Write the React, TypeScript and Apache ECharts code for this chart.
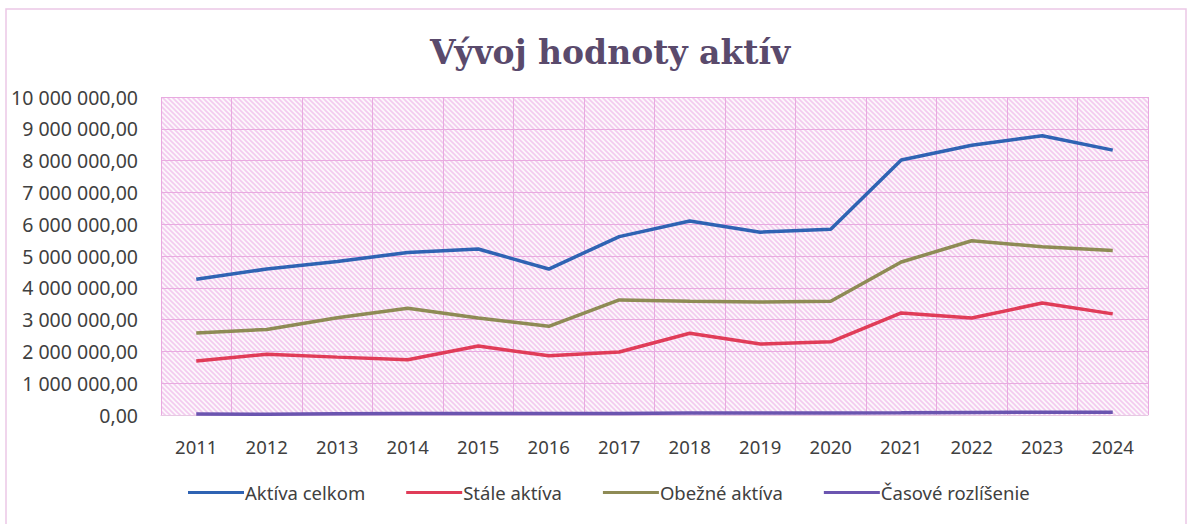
import React, { useEffect, useRef } from "react";
import * as echarts from "echarts";

const years = ["2011","2012","2013","2014","2015","2016","2017","2018","2019","2020","2021","2022","2023","2024"];
const aktivaCelkom = [4270000, 4590000, 4830000, 5110000, 5220000, 4590000, 5610000, 6100000, 5750000, 5840000, 8020000, 8480000, 8780000, 8330000];
const staleAktiva = [1700000, 1910000, 1820000, 1740000, 2170000, 1860000, 1980000, 2570000, 2230000, 2300000, 3210000, 3050000, 3520000, 3180000];
const obezneAktiva = [2580000, 2690000, 3060000, 3360000, 3050000, 2790000, 3620000, 3580000, 3550000, 3580000, 4810000, 5480000, 5290000, 5170000];
const casoveRozlisenie = [30000, 25000, 40000, 45000, 50000, 45000, 50000, 60000, 60000, 65000, 70000, 80000, 90000, 85000];
const seriesNames = ["Aktíva celkom", "Stále aktíva", "Obežné aktíva", "Časové rozlíšenie"];
const seriesColors = ["#2f63b3", "#e03c58", "#8e8b55", "#6b55b0"];

const hatchSvg =
  '<svg xmlns="http://www.w3.org/2000/svg" width="5" height="5">' +
  '<rect width="5" height="5" fill="#fdf7fc"/>' +
  '<path d="M-1,-1 L6,6 M-1,4 L1,6 M4,-1 L6,1" stroke="#f3cbef" stroke-width="1.6"/>' +
  "</svg>";
const hatchUrl = "data:image/svg+xml;charset=utf-8," + encodeURIComponent(hatchSvg);

function fmt(v: number): string {
  const s = Math.round(v).toString().replace(/\B(?=(\d{3})+(?!\d))/g, " ");
  return s + ",00";
}

export default function App() {
  const ref = useRef<HTMLDivElement>(null);
  useEffect(() => {
    if (!ref.current) return;
    const chart = echarts.init(ref.current, undefined, { renderer: "svg" });
    const data = [aktivaCelkom, staleAktiva, obezneAktiva, casoveRozlisenie];
    chart.setOption({
      animation: false,
      backgroundColor: "#ffffff",
      title: {
        text: "Vývoj hodnoty aktív",
        left: 425,
        top: 31,
        textStyle: {
          fontFamily: "DejaVu Serif",
          fontWeight: "bold",
          fontSize: 33,
          color: "#5a4a6c",
        },
      },
      graphic: [
        {
          type: "rect",
          shape: { x: 6, y: 9, width: 1180, height: 520 },
          style: { fill: "none", stroke: "#ecc7e6", lineWidth: 1.5 },
          silent: true,
        },
      ],
      grid: {
        left: 161,
        right: 45,
        top: 97,
        bottom: 109,
        show: true,
        borderWidth: 0,
        backgroundColor: { image: hatchUrl, repeat: "repeat" } as any,
      },
      legend: {
        bottom: 17,
        left: 183,
        itemWidth: 56,
        itemHeight: 3,
        itemGap: 41,
        icon: "rect",
        textStyle: { fontFamily: "Noto Sans", fontSize: 18.5, color: "#404040", padding: [0, 0, 0, -4] },
        data: seriesNames,
      },
      xAxis: {
        type: "category",
        data: years,
        boundaryGap: true,
        axisLine: { show: true, lineStyle: { color: "#e6c8e2", width: 1 } },
        axisTick: { show: false },
        axisLabel: { fontFamily: "Noto Sans", fontSize: 18.5, color: "#404040", margin: 22 },
        splitLine: { show: true, lineStyle: { color: "#e8aae0", width: 1 } },
      },
      yAxis: {
        type: "value",
        min: 0,
        max: 10000000,
        interval: 1000000,
        axisLine: { show: false },
        axisTick: { show: false },
        axisLabel: {
          fontFamily: "Noto Sans",
          fontSize: 19.5,
          color: "#404040",
          margin: 23,
          formatter: (v: number) => fmt(v),
        },
        splitLine: { show: true, lineStyle: { color: "#e8aae0", width: 1 } },
      },
      series: seriesNames.map((name, i) => ({
        name,
        type: "line",
        data: data[i],
        symbol: "none",
        lineStyle: { width: 3.5, color: seriesColors[i] },
        itemStyle: { color: seriesColors[i] },
        z: 10 - i,
      })),
    });
    return () => chart.dispose();
  }, []);
  return <div ref={ref} style={{ width: 1193, height: 524, position: "absolute", left: 0, top: 0 }} />;
}
